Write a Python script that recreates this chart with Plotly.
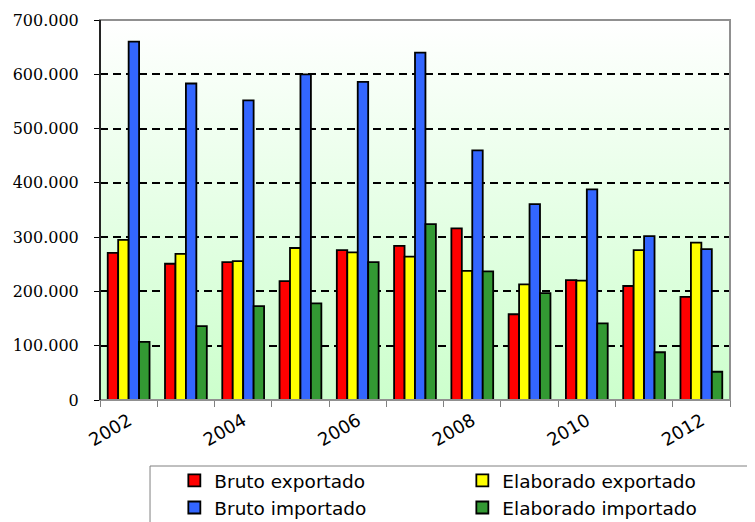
import base64
import plotly.graph_objects as go

years = [2002, 2003, 2004, 2005, 2006, 2007, 2008, 2009, 2010, 2011, 2012]
bruto_exportado = [271000, 251000, 254000, 219000, 276000, 284000, 316000, 158000, 221000, 210000, 190000]
elaborado_exportado = [295000, 269000, 256000, 280000, 272000, 264000, 238000, 213000, 220000, 276000, 290000]
bruto_importado = [660000, 583000, 552000, 600000, 586000, 640000, 460000, 361000, 388000, 302000, 278000]
elaborado_importado = [107000, 136000, 173000, 178000, 254000, 324000, 237000, 197000, 141000, 88000, 52000]

series_names = ["Bruto exportado", "Elaborado exportado", "Bruto importado", "Elaborado importado"]
series_colors = ["#ff0000", "#ffff00", "#3366ff", "#339933"]
series_values = [bruto_exportado, elaborado_exportado, bruto_importado, elaborado_importado]

y_tickvals = [0, 100000, 200000, 300000, 400000, 500000, 600000, 700000]
y_ticktext = ["0", "100.000", "200.000", "300.000", "400.000", "500.000", "600.000", "700.000"]
x_tickvals = [2002, 2004, 2006, 2008, 2010, 2012]
x_ticktext = ["2002", "2004", "2006", "2008", "2010", "2012"]

fig = go.Figure()
for name, color, vals in zip(series_names, series_colors, series_values):
    fig.add_trace(go.Bar(
        x=years, y=vals, name=name,
        marker=dict(color=color, line=dict(color="black", width=1.8)),
    ))

svg = ("<svg xmlns='http://www.w3.org/2000/svg' width='100' height='100' viewBox='0 0 100 100' "
       "preserveAspectRatio='none'><defs><linearGradient id='g' x1='0' y1='0' x2='0' y2='1'>"
       "<stop offset='0' stop-color='#ffffff'/><stop offset='1' stop-color='#ccffcc'/>"
       "</linearGradient></defs><rect width='100' height='100' fill='url(#g)'/></svg>")
bg_src = "data:image/svg+xml;base64," + base64.b64encode(svg.encode()).decode()

# the page body adds an 8px offset, so the figure is 8px smaller on each side
fig.update_layout(
    width=747, height=514,
    margin=dict(l=92, r=25, t=12, b=122, pad=0, autoexpand=False),
    paper_bgcolor="white",
    plot_bgcolor="rgba(0,0,0,0)",
    barmode="group",
    bargap=0.27,
    bargroupgap=0,
    font=dict(family="DejaVu Sans", color="black"),
    images=[dict(source=bg_src, xref="paper", yref="paper", x=0, y=1, sizex=1, sizey=1,
                 sizing="stretch", layer="below", xanchor="left", yanchor="top")],
    xaxis=dict(
        range=[2001.5, 2012.5],
        tickvals=x_tickvals, ticktext=x_ticktext,
        tickangle=-30, ticks="", showgrid=False, zeroline=False,
        tickfont=dict(family="DejaVu Sans", size=18, color="black"),
        minor=dict(tick0=2001.5, dtick=1, ticks="outside", ticklen=6, tickcolor="#808080", tickwidth=1),
        showline=False, ticklabelstandoff=6,
    ),
    yaxis=dict(
        range=[0, 700000],
        tickvals=y_tickvals, ticktext=y_ticktext,
        ticks="outside", ticklen=5, tickcolor="black", tickwidth=1,
        tickfont=dict(family="DejaVu Serif", size=16, color="black"),
        showgrid=True, gridcolor="black", gridwidth=2, griddash="8px,5px",
        zeroline=False, showline=False, ticklabelstandoff=12,
    ),
    showlegend=True,
    legend=dict(
        orientation="h", x=0.118, y=-0.163, xanchor="left", yanchor="top",
        entrywidth=243, entrywidthmode="pixels",
        font=dict(family="DejaVu Sans", size=18.5, color="black"),
        bgcolor="rgba(0,0,0,0)", borderwidth=0, traceorder="normal",
    ),
    shapes=[
        dict(type="rect", xref="x domain", yref="y domain", x0=0, x1=1, y0=0, y1=1,
             line=dict(color="#909090", width=2), layer="above"),
        dict(type="line", xref="x domain", yref="y domain", x0=0, x1=0, y0=0, y1=1,
             line=dict(color="black", width=1.5), layer="above"),
        dict(type="rect", xref="paper", yref="paper", x0=0.0794, x1=1.2, y0=-0.1737, y1=-0.6,
             line=dict(color="#808080", width=1), layer="above"),
    ],
)

fig.write_html("out.html")
